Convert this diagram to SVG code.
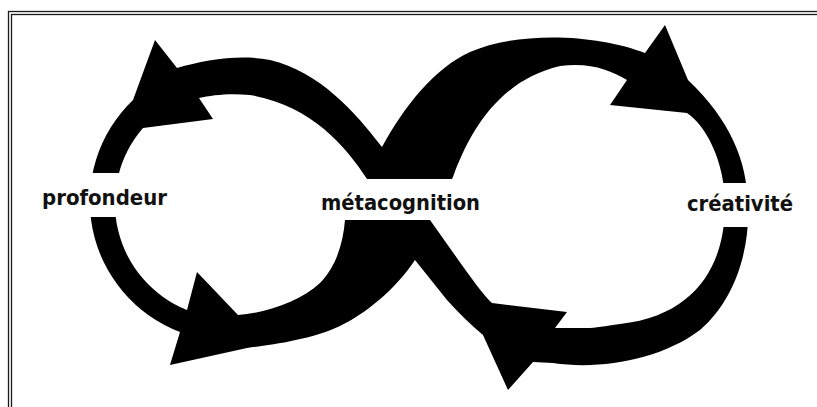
<svg xmlns="http://www.w3.org/2000/svg" width="817" height="407" viewBox="0 0 817 407">
  <style>
    .frame { fill: none; stroke: #1a1a1a; stroke-width: 1.3; }
    .band { fill: #000; fill-rule: evenodd; }
    .label { font-family: "DejaVu Sans Condensed", "DejaVu Sans", "Liberation Sans", sans-serif; font-weight: bold; font-size: 22px; fill: #111; }
  </style>
  <defs>
    <mask id="gaps" maskUnits="userSpaceOnUse" x="0" y="0" width="817" height="407">
      <rect x="0" y="0" width="817" height="407" fill="#fff"/>
      <rect x="80" y="173" width="50" height="44" fill="#000"/>
      <rect x="330" y="179" width="140" height="41" fill="#000"/>
      <rect x="712" y="183" width="50" height="44" fill="#000"/>
    </mask>
  </defs>
  <rect width="817" height="407" fill="#fff"/>
  <g id="frame">
    <rect class="frame" x="8.5" y="11.5" width="900" height="500"/>
    <rect class="frame" x="11.5" y="14.5" width="900" height="500"/>
  </g>
  <g id="connectors">
    <path class="band" mask="url(#gaps)" d="
      M382,147 C355,112 320,72 270,60 C240,54 205,60 177,68
      L155,40 L133,100
      A140,140 0 0 0 180,332
      L170,365 L247,348
      C270,345 310,340 340,326 C365,314 395,290 415,260
      L447,300 Q465,320 483,335
      L508,390 L533,362
      L553,363 C600,370 660,360 700,330 C735,300 750,250 748,205 C747,160 730,120 688,80
      L665,25 L645,53
      C600,35 520,30 470,52 C435,68 405,105 382,147 Z
      M367,179 C345,145 310,105 250,95 C230,93 212,95 199,98
      L213,119 L143,128
      A115,115 0 0 0 187,310
      L197,272 L238,315
      C265,313 300,302 320,283 C335,268 343,245 345,220
      L367,179 Z
      M453,177 C470,130 500,80 560,66 C590,62 610,70 627,80
      L610,105 L687,113
      C705,125 725,160 725,205 C725,260 700,315 620,324 C605,326 595,328 587,328
      L555,328 L567,312 L492,303
      C480,292 460,262 430,220
      L453,177 Z"/>
  </g>
  <g id="profondeur">
    <text class="label" x="42" y="205" textLength="125" lengthAdjust="spacingAndGlyphs">profondeur</text>
  </g>
  <g id="metacognition">
    <text class="label" x="321" y="210" textLength="159" lengthAdjust="spacingAndGlyphs">métacognition</text>
  </g>
  <g id="creativite">
    <text class="label" x="687" y="211" textLength="106" lengthAdjust="spacingAndGlyphs">créativité</text>
  </g>
</svg>
